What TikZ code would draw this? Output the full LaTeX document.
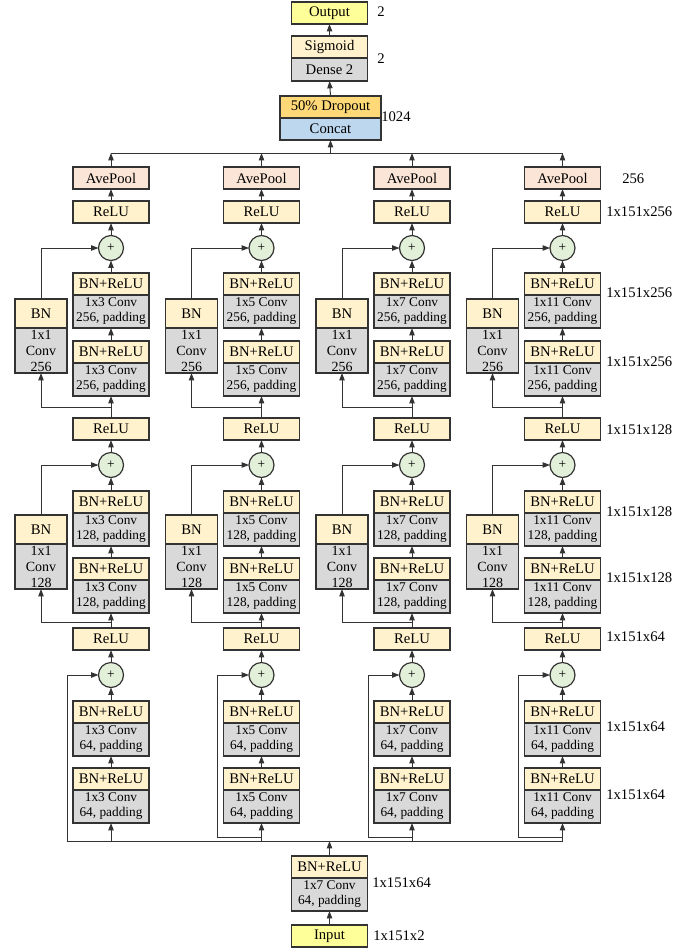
\documentclass[tikz,border=0pt]{standalone}
\usepackage{fontspec}
\setmainfont{Liberation Serif}
\usetikzlibrary{arrows.meta,positioning,calc}
\definecolor{cYel}{HTML}{FFFF99}
\definecolor{cBeige}{HTML}{FFF2CC}
\definecolor{cGray}{HTML}{D9D9D9}
\definecolor{cGold}{HTML}{FFD978}
\definecolor{cBlue}{HTML}{BDD7EE}
\definecolor{cSalmon}{HTML}{FBE5D6}
\definecolor{cGreen}{HTML}{E2F0D9}
\definecolor{cLine}{HTML}{333333}
\tikzset{
  box/.style={draw=cLine, line width=0.9pt, inner sep=0pt, outer sep=0pt, minimum width=57pt, align=center, font=\fontsize{11}{12}\selectfont},
  hdr/.style={box, fill=cBeige, minimum height=16.5pt},
  convbox/.style={box, fill=cGray, minimum height=24.75pt, font=\fontsize{10}{11.25}\selectfont},
  scbn/.style={box, fill=cBeige, minimum width=39pt, minimum height=21.75pt},
  scconv/.style={box, fill=cGray, minimum width=39pt, minimum height=33.75pt, font=\fontsize{10.5}{12}\selectfont},
  plusnode/.style={circle, draw=cLine, line width=0.9pt, fill=cGreen, minimum size=18.75pt, inner sep=0pt, outer sep=0pt, font=\fontsize{10}{10}\selectfont},
  arr/.style={draw=cLine, line width=0.75pt, -{Triangle[length=5.5pt,width=4pt]}},
  ln/.style={draw=cLine, line width=0.75pt},
  lbl/.style={anchor=west, inner sep=0pt, font=\fontsize{11}{12}\selectfont}
}
\begin{document}
\begin{tikzpicture}[x=0.75pt,y=-0.75pt]
\useasboundingbox (0,0) rectangle (700,951);
\fill[white] (0,0) rectangle (700,951);

% ---- top part
\node[box, fill=cYel, minimum height=16.5pt] (out) at (329.5,13) {Output};
\node[hdr] (sig) at (329.5,47) {Sigmoid};
\node[box, fill=cGray, minimum height=17.25pt, anchor=north] (dense) at (sig.south) {Dense 2};
\node[box, fill=cGold, minimum width=75.75pt, minimum height=16.5pt] (drop) at (330.5,107) {50\% Dropout};
\node[box, fill=cBlue, minimum width=75.75pt, minimum height=16.5pt, anchor=north] (concat) at (drop.south) {Concat};
\draw[arr] (sig.north) -- (out.south);
\draw[arr] (drop.north) -- (dense.south);

% ---- columns
\foreach \c/\cx/\k in {1/111/3, 2/261.5/5, 3/412/7, 4/562.5/11}{
  % stage 1
  \node[hdr, anchor=north] (h1b-\c) at (\cx,768) {BN+ReLU};
  \node[convbox, anchor=north] (c1b-\c) at (h1b-\c.south) {1x\k\ Conv\\64, padding};
  \node[hdr, anchor=north] (h1a-\c) at (\cx,701) {BN+ReLU};
  \node[convbox, anchor=north] (c1a-\c) at (h1a-\c.south) {1x\k\ Conv\\64, padding};
  \node[plusnode] (p1-\c) at (\cx,675) {+};
  \node[hdr] (r1-\c) at (\cx,639) {ReLU};
  % stage 2
  \node[hdr, anchor=north] (h2b-\c) at (\cx,558) {BN+ReLU};
  \node[convbox, anchor=north] (c2b-\c) at (h2b-\c.south) {1x\k\ Conv\\128, padding};
  \node[hdr, anchor=north] (h2a-\c) at (\cx,491) {BN+ReLU};
  \node[convbox, anchor=north] (c2a-\c) at (h2a-\c.south) {1x\k\ Conv\\128, padding};
  \node[scbn, anchor=north] (s2b-\c) at (\cx-70,515) {BN};
  \node[scconv, anchor=north] (s2c-\c) at (s2b-\c.south) {1x1\\Conv\\128};
  \node[plusnode] (p2-\c) at (\cx,465) {+};
  \node[hdr] (r2-\c) at (\cx,429) {ReLU};
  % stage 3
  \node[hdr, anchor=north] (h3b-\c) at (\cx,341) {BN+ReLU};
  \node[convbox, anchor=north] (c3b-\c) at (h3b-\c.south) {1x\k\ Conv\\256, padding};
  \node[hdr, anchor=north] (h3a-\c) at (\cx,273) {BN+ReLU};
  \node[convbox, anchor=north] (c3a-\c) at (h3a-\c.south) {1x\k\ Conv\\256, padding};
  \node[scbn, anchor=north] (s3b-\c) at (\cx-70,299) {BN};
  \node[scconv, anchor=north] (s3c-\c) at (s3b-\c.south) {1x1\\Conv\\256};
  \node[plusnode] (p3-\c) at (\cx,248) {+};
  \node[hdr] (r3-\c) at (\cx,212) {ReLU};
  \node[hdr, fill=cSalmon] (ap-\c) at (\cx,178) {AvePool};
  % coordinates
  \coordinate (m-\c) at (\cx,841);
  \coordinate (b2-\c) at (\cx,622);
  \coordinate (b3-\c) at (\cx,407);
  \coordinate (t-\c) at (\cx,153);
  % stage 1 connectors
  \draw[arr] (m-\c) -- (c1b-\c.south);
  \draw[arr] (h1b-\c.north) -- (c1a-\c.south);
  \draw[arr] (h1a-\c.north) -- (p1-\c.south);
  \draw[arr] (p1-\c.north) -- (r1-\c.south);
  % stage 2 connectors
  \draw[arr] (r1-\c.north) -- (c2b-\c.south);
  \draw[arr] (b2-\c) -| (s2c-\c.south);
  \draw[arr] (h2b-\c.north) -- (c2a-\c.south);
  \draw[arr] (h2a-\c.north) -- (p2-\c.south);
  \draw[arr] (s2b-\c.north) |- (p2-\c.west);
  \draw[arr] (p2-\c.north) -- (r2-\c.south);
  % stage 3 connectors
  \draw[arr] (r2-\c.north) -- (c3b-\c.south);
  \draw[arr] (b3-\c) -| (s3c-\c.south);
  \draw[arr] (h3b-\c.north) -- (c3a-\c.south);
  \draw[arr] (h3a-\c.north) -- (p3-\c.south);
  \draw[arr] (s3b-\c.north) |- (p3-\c.west);
  \draw[arr] (p3-\c.north) -- (r3-\c.south);
  \draw[arr] (r3-\c.north) -- (ap-\c.south);
  \draw[arr] (ap-\c.north) -- (t-\c);
}

% stage-1 identity skips
\coordinate (s-1) at (67,841);
\draw[arr] (s-1) |- (p1-1.west);
\foreach \c/\cx in {2/261.5, 3/412, 4/562.5}{
  \coordinate (q-\c) at (\cx,837);
  \draw[arr] (q-\c) -- ++(-44,0) |- (p1-\c.west);
}
\draw[ln] (s-1) -- (m-4);
\draw[ln] (t-1) -- (t-4);
\draw[arr] (concat.south |- t-1) -- (concat.south);

% ---- input part
\node[hdr, anchor=north] (ibh) at (329.5,856) {BN+ReLU};
\node[convbox, anchor=north] (ibc) at (ibh.south) {1x7 Conv\\64, padding};
\node[box, fill=cYel, minimum height=16.5pt] (inp) at (329.5,936) {Input};
\draw[arr] (inp.north) -- (ibc.south);
\draw[arr] (ibh.north) -- (ibh.north |- s-1);

% ---- labels
\node[lbl] (l1) at (377,12) {2};
\node[lbl] (l2) at (377,59) {2};
\node[lbl] (l3) at (381,117) {1024};
\node[lbl] (l4) at (622,179) {256};
\node[lbl] (l5) at (606,212) {1x151x256};
\node[lbl] (l6) at (606,293) {1x151x256};
\node[lbl] (l7) at (606,362) {1x151x256};
\node[lbl] (l8) at (606,430) {1x151x128};
\node[lbl] (l9) at (606,512) {1x151x128};
\node[lbl] (l10) at (606,578) {1x151x128};
\node[lbl] (l11) at (606,637) {1x151x64};
\node[lbl] (l12) at (606,727) {1x151x64};
\node[lbl] (l13) at (606,795) {1x151x64};
\node[lbl] (l14) at (372,883) {1x151x64};
\node[lbl] (l15) at (373,936) {1x151x2};
\end{tikzpicture}
\end{document}
